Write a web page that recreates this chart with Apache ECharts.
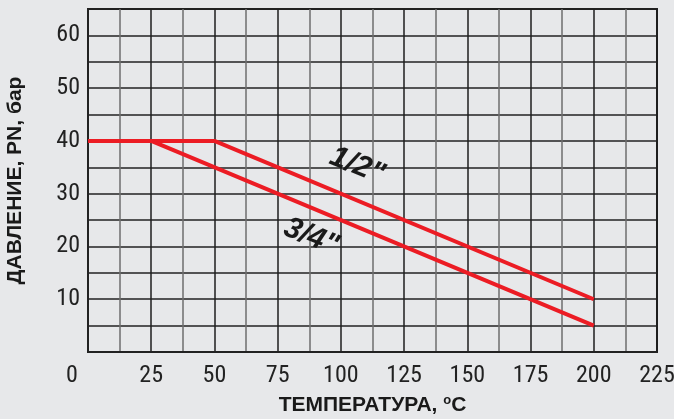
<!DOCTYPE html>
<html>
<head>
<meta charset="utf-8">
<script src="https://cdn.jsdelivr.net/npm/echarts@6/dist/echarts.min.js"></script>
<style>
html,body{margin:0;padding:0;background:#e7e8ea;}
#c{width:674px;height:419px;}
</style>
</head>
<body>
<div id="c"></div>
<script>
// Data
var seriesHalf = [[0, 40], [50, 40], [200, 10]];      // 1/2"
var seriesThreeQ = [[0, 40], [25, 40], [200, 5]];     // 3/4"
var xTicks = [0, 25, 50, 75, 100, 125, 150, 175, 200, 225];
var yTicks = [10, 20, 30, 40, 50, 60];
var labelHalf = { text: '1/2"', at: [106.4, 35.3] };
var labelThreeQ = { text: '3/4"', at: [88.2, 21.8] };

var numFont = "'Liberation Sans Narrow', 'Roboto Condensed', 'Liberation Sans', Arial, sans-serif";
var chart = echarts.init(document.getElementById('c'));
var red = '#ec1c24';
var option = {
  backgroundColor: '#e7e8ea',
  animation: false,
  grid: { left: 88, right: 17, top: 9, bottom: 67, outerBoundsMode: 'none', containLabel: false, show: true, borderColor: '#222', borderWidth: 2, backgroundColor: 'transparent' },
  xAxis: {
    type: 'value', min: 0, max: 225, interval: 12.5,
    name: 'ТЕМПЕРАТУРА, {sup|o}C', nameLocation: 'middle', nameGap: 42,
    nameTextStyle: { fontFamily: 'Liberation Sans, Arial, sans-serif', fontWeight: 'bold', fontSize: 21, color: '#1a1a1a',
      rich: { sup: { fontSize: 13, fontWeight: 'bold', verticalAlign: 'top', padding: [0, 0, 9, 0], color: '#1a1a1a', fontFamily: 'Liberation Sans, Arial, sans-serif' } } },
    axisLine: { show: true, lineStyle: { color: '#222', width: 2 } },
    axisTick: { show: false },
    splitLine: { show: true, lineStyle: { color: ['#1e1e1e', '#6e6e6e'], width: 1.5 } },
    axisLabel: {
      margin: 12, fontFamily: numFont, fontSize: 24, color: '#222',
      formatter: function (v) {
        if (xTicks.indexOf(v) < 0) return '';
        if (v === 0) return '{z|0}';
        return String(v);
      },
      rich: { z: { fontFamily: numFont, fontSize: 24, color: '#222', padding: [0, 32, 0, 0] } }
    }
  },
  yAxis: {
    type: 'value', min: 0, max: 65, interval: 5,
    name: 'ДАВЛЕНИЕ, PN, бар', nameLocation: 'middle', nameGap: 62,
    nameTextStyle: { fontFamily: 'Liberation Sans, Arial, sans-serif', fontWeight: 'bold', fontSize: 21, color: '#1a1a1a' },
    axisLine: { show: true, lineStyle: { color: '#222', width: 2 } },
    axisTick: { show: false },
    splitLine: { show: true, lineStyle: { color: '#222', width: 1.5 } },
    axisLabel: {
      margin: 8, fontFamily: numFont, fontSize: 24, color: '#222',
      formatter: function (v) { return yTicks.indexOf(v) >= 0 ? String(v) : ''; }
    }
  },
  series: [
    { type: 'line', data: seriesHalf, symbol: 'none', lineStyle: { color: red, width: 4 }, z: 5 },
    { type: 'line', data: seriesThreeQ, symbol: 'none', lineStyle: { color: red, width: 4 }, z: 5 }
  ]
};
chart.setOption(option);

function addLabels() {
  var items = [labelHalf, labelThreeQ].map(function (l) {
    var p = chart.convertToPixel({ gridIndex: 0 }, l.at);
    return {
      type: 'text', x: p[0], y: p[1], rotation: -22 * Math.PI / 180, z: 10,
      style: { text: l.text, fill: '#1a1a1a', font: 'italic bold 30px "Liberation Sans", Arial, sans-serif', align: 'center', verticalAlign: 'middle' }
    };
  });
  chart.setOption({ graphic: items });
}
addLabels();
</script>
</body>
</html>
